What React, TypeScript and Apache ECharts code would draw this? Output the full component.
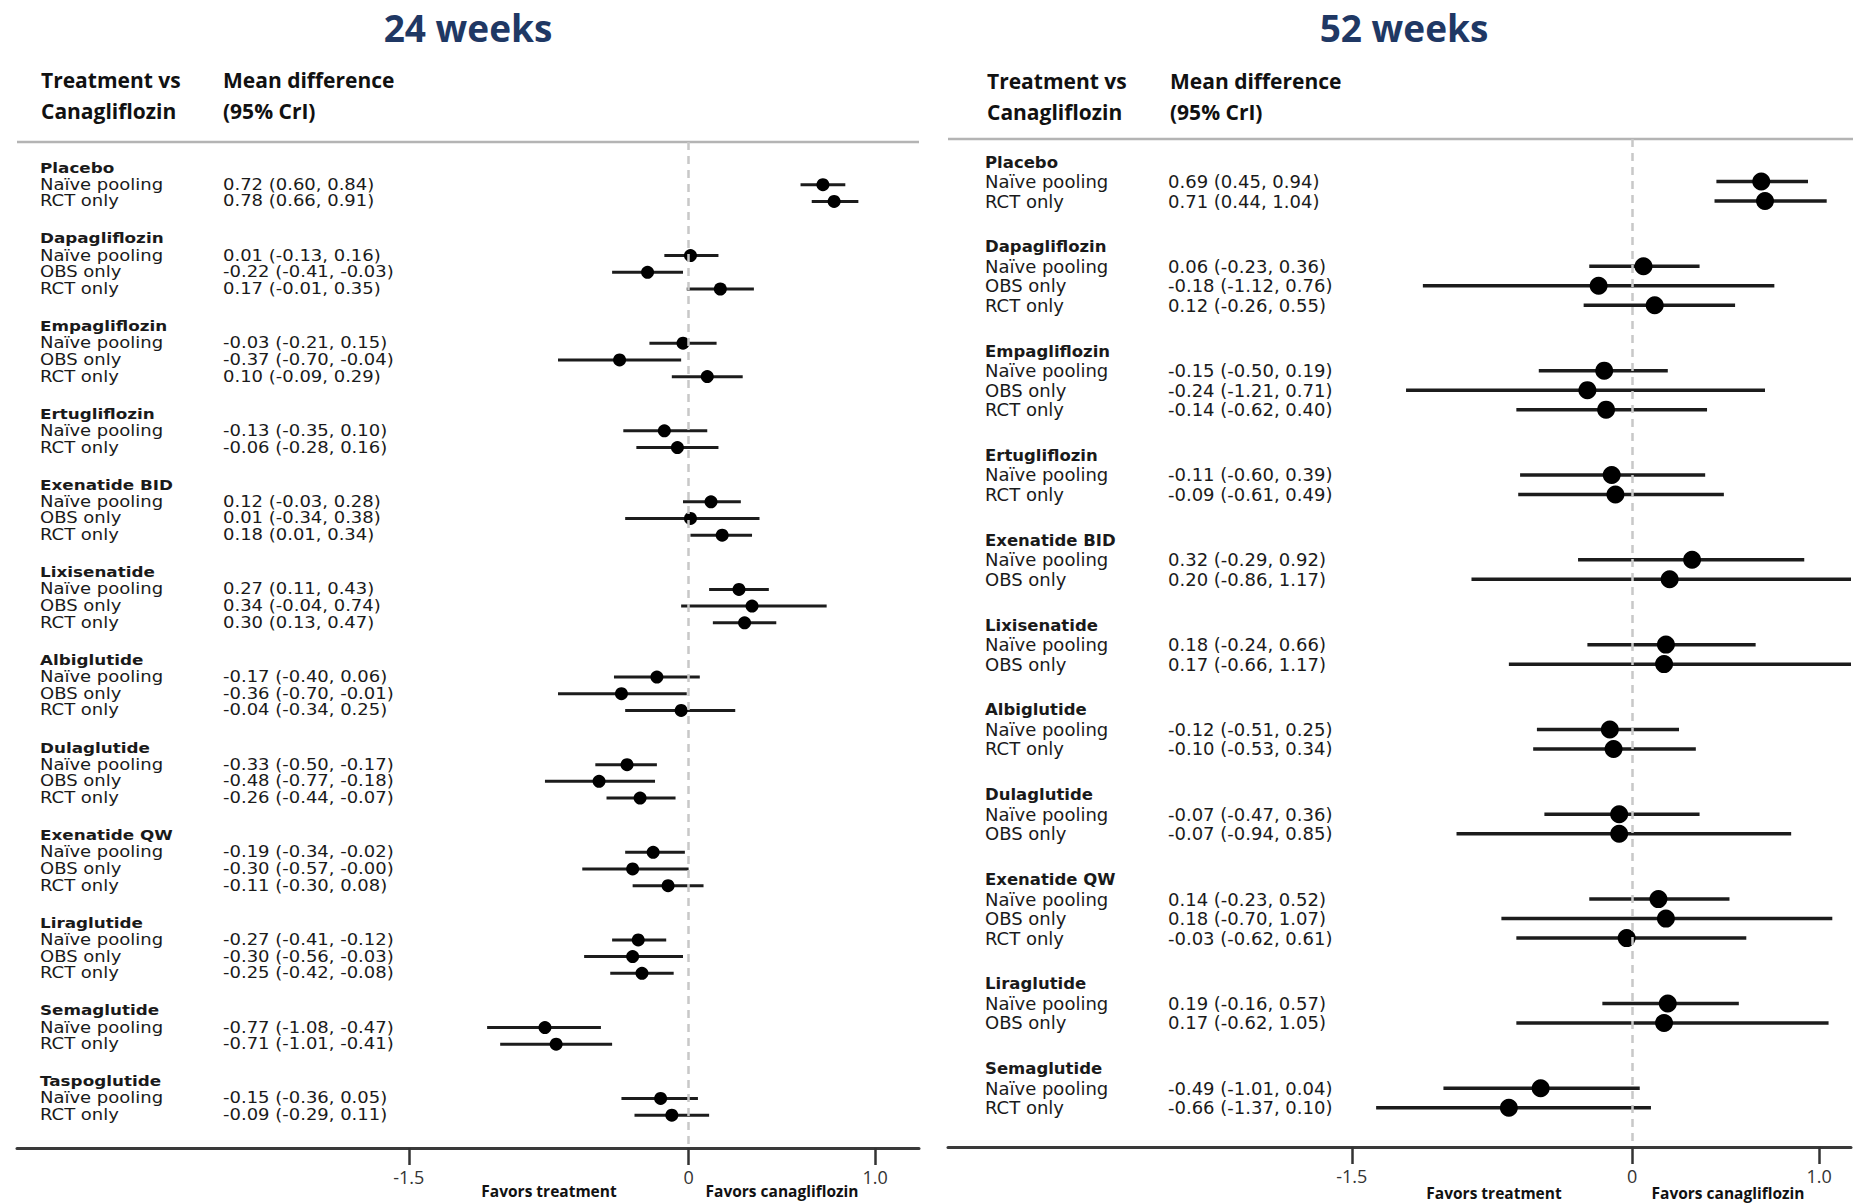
import React, { useEffect, useRef } from "react";
import * as echarts from "echarts";

// ---------------- DATA: 24 weeks ----------------
const GROUPS_24 = [
  "Placebo", "Dapagliflozin", "Empagliflozin", "Ertugliflozin", "Exenatide BID", "Lixisenatide",
  "Albiglutide", "Dulaglutide", "Exenatide QW", "Liraglutide", "Semaglutide", "Taspoglutide",
];
const METHODS_24 = [
  ["Naïve pooling", "RCT only"],
  ["Naïve pooling", "OBS only", "RCT only"],
  ["Naïve pooling", "OBS only", "RCT only"],
  ["Naïve pooling", "RCT only"],
  ["Naïve pooling", "OBS only", "RCT only"],
  ["Naïve pooling", "OBS only", "RCT only"],
  ["Naïve pooling", "OBS only", "RCT only"],
  ["Naïve pooling", "OBS only", "RCT only"],
  ["Naïve pooling", "OBS only", "RCT only"],
  ["Naïve pooling", "OBS only", "RCT only"],
  ["Naïve pooling", "RCT only"],
  ["Naïve pooling", "RCT only"],
];
const MEAN_24 = [
  [0.72, 0.78], [0.01, -0.22, 0.17], [-0.03, -0.37, 0.10], [-0.13, -0.06], [0.12, 0.01, 0.18],
  [0.27, 0.34, 0.30], [-0.17, -0.36, -0.04], [-0.33, -0.48, -0.26], [-0.19, -0.30, -0.11],
  [-0.27, -0.30, -0.25], [-0.77, -0.71], [-0.15, -0.09],
];
const LOWER_24 = [
  [0.60, 0.66], [-0.13, -0.41, -0.01], [-0.21, -0.70, -0.09], [-0.35, -0.28], [-0.03, -0.34, 0.01],
  [0.11, -0.04, 0.13], [-0.40, -0.70, -0.34], [-0.50, -0.77, -0.44], [-0.34, -0.57, -0.30],
  [-0.41, -0.56, -0.42], [-1.08, -1.01], [-0.36, -0.29],
];
const UPPER_24 = [
  [0.84, 0.91], [0.16, -0.03, 0.35], [0.15, -0.04, 0.29], [0.10, 0.16], [0.28, 0.38, 0.34],
  [0.43, 0.74, 0.47], [0.06, -0.01, 0.25], [-0.17, -0.18, -0.07], [-0.02, -0, 0.08],
  [-0.12, -0.03, -0.08], [-0.47, -0.41], [0.05, 0.11],
];

// ---------------- DATA: 52 weeks ----------------
const GROUPS_52 = [
  "Placebo", "Dapagliflozin", "Empagliflozin", "Ertugliflozin", "Exenatide BID", "Lixisenatide",
  "Albiglutide", "Dulaglutide", "Exenatide QW", "Liraglutide", "Semaglutide",
];
const METHODS_52 = [
  ["Naïve pooling", "RCT only"],
  ["Naïve pooling", "OBS only", "RCT only"],
  ["Naïve pooling", "OBS only", "RCT only"],
  ["Naïve pooling", "RCT only"],
  ["Naïve pooling", "OBS only"],
  ["Naïve pooling", "OBS only"],
  ["Naïve pooling", "RCT only"],
  ["Naïve pooling", "OBS only"],
  ["Naïve pooling", "OBS only", "RCT only"],
  ["Naïve pooling", "OBS only"],
  ["Naïve pooling", "RCT only"],
];
const MEAN_52 = [
  [0.69, 0.71], [0.06, -0.18, 0.12], [-0.15, -0.24, -0.14], [-0.11, -0.09], [0.32, 0.20],
  [0.18, 0.17], [-0.12, -0.10], [-0.07, -0.07], [0.14, 0.18, -0.03], [0.19, 0.17], [-0.49, -0.66],
];
const LOWER_52 = [
  [0.45, 0.44], [-0.23, -1.12, -0.26], [-0.50, -1.21, -0.62], [-0.60, -0.61], [-0.29, -0.86],
  [-0.24, -0.66], [-0.51, -0.53], [-0.47, -0.94], [-0.23, -0.70, -0.62], [-0.16, -0.62], [-1.01, -1.37],
];
const UPPER_52 = [
  [0.94, 1.04], [0.36, 0.76, 0.55], [0.19, 0.71, 0.40], [0.39, 0.49], [0.92, 1.17],
  [0.66, 1.17], [0.25, 0.34], [0.36, 0.85], [0.52, 1.07, 0.61], [0.57, 1.05], [0.04, 0.10],
];

const X_TICKS = [-1.5, 0, 1.0];

// ---------------- helpers ----------------
const fmt = (v: number) => (v < 0 || Object.is(v, -0) ? "-" : "") + Math.abs(v).toFixed(2);

type Row = { pos: number; kind: "h" | "r"; label: string; ci?: string; mean?: number; lo?: number; hi?: number };

function buildRows(groups: string[], methods: string[][], means: number[][], lows: number[][], highs: number[][], gap: number): Row[] {
  const rows: Row[] = [];
  let p = 0;
  groups.forEach((g, gi) => {
    rows.push({ pos: p, kind: "h", label: g });
    methods[gi].forEach((m, mi) => {
      const mean = means[gi][mi], lo = lows[gi][mi], hi = highs[gi][mi];
      rows.push({ pos: p + 1 + mi, kind: "r", label: m, ci: `${fmt(mean)} (${fmt(lo)}, ${fmt(hi)})`, mean, lo, hi });
    });
    p += methods[gi].length + gap;
  });
  return rows;
}

type Panel = {
  rows: Row[]; xMin: number; xMax: number; gridLeft: number; gridWidth: number; top: number; bottom: number;
  first: number; step: number; labelX: number; ciX: number; fontSize: number; boldSize: number; scaleX: number;
  symbolSize: number; lineWidth: number;
};

const PANELS: Panel[] = [
  {
    rows: buildRows(GROUPS_24, METHODS_24, MEAN_24, LOWER_24, UPPER_24, 2.25),
    xMin: -3.6, xMax: 1.235, gridLeft: 17, gridWidth: 902, top: 142, bottom: 1148,
    first: 168, step: 16.69, labelX: 23, ciX: 206, fontSize: 15, boldSize: 14, scaleX: 1.2,
    symbolSize: 13, lineWidth: 3,
  },
  {
    rows: buildRows(GROUPS_52, METHODS_52, MEAN_52, LOWER_52, UPPER_52, 2.35),
    xMin: -3.66, xMax: 1.17, gridLeft: 948, gridWidth: 903, top: 139, bottom: 1147,
    first: 162, step: 19.5, labelX: 37, ciX: 220, fontSize: 18, boldSize: 16.5, scaleX: 1,
    symbolSize: 18, lineWidth: 3.5,
  },
];

function txt(x: number, y: number, text: string, size: number, opts: any = {}) {
  const align = opts.align || "left";
  return {
    type: "text", x, y, silent: true,
    style: {
      text, fontSize: size, fontFamily: opts.family || "Open Sans", fontWeight: opts.weight || "bold",
      fill: opts.fill || "#111", align, textAlign: align, verticalAlign: "middle", textVerticalAlign: "middle",
    },
  };
}

function hline(x1: number, x2: number, y: number) {
  return { type: "line", silent: true, shape: { x1, y1: y, x2, y2: y }, style: { stroke: "#b4b4b4", lineWidth: 2.5 } };
}

export default function App() {
  const ref = useRef<HTMLDivElement>(null);

  useEffect(() => {
    if (!ref.current) return;
    const chart = echarts.init(ref.current, null, { renderer: "svg" });

    const grids: any[] = [];
    const xAxes: any[] = [];
    const yAxes: any[] = [];
    const series: any[] = [];

    PANELS.forEach((P, i) => {
      const height = P.bottom - P.top;
      grids.push({ left: P.gridLeft, top: P.top, width: P.gridWidth, height, containLabel: false });
      xAxes.push({
        type: "value", gridIndex: i, min: P.xMin, max: P.xMax, position: "bottom",
        axisLine: { show: true, onZero: false, lineStyle: { color: "#3a3a3a", width: 3 } },
        axisTick: { show: true, customValues: X_TICKS, length: 17, lineStyle: { color: "#333", width: 2.5 } },
        axisLabel: {
          customValues: X_TICKS, margin: 20, fontSize: 18, color: "#333", fontFamily: "Open Sans",
          formatter: (v: number) => (v === 0 ? "0" : v.toFixed(1)),
        },
        splitLine: { show: false },
      });
      yAxes.push({
        type: "value", gridIndex: i, inverse: true, show: false,
        min: (P.top - P.first) / P.step, max: (P.bottom - P.first) / P.step,
        splitLine: { show: false },
      });

      const dataRows = P.rows.filter((r) => r.kind === "r");
      const rows = P.rows;

      // text column + zero reference line
      series.push({
        type: "custom", xAxisIndex: i, yAxisIndex: i, z: 1, silent: true,
        data: rows.map((r) => [P.xMin, r.pos]),
        encode: { x: 0, y: 1 },
        renderItem: (params: any, api: any) => {
          const r = rows[params.dataIndex];
          const pt = api.coord([api.value(0), api.value(1)]);
          const cx = params.coordSys.x;
          const children: any[] = [];
          children.push({
            type: "text", x: cx + P.labelX, y: pt[1], scaleX: P.scaleX,
            style: {
              text: r.label, fontFamily: "DejaVu Sans",
              fontSize: r.kind === "h" ? P.boldSize : P.fontSize,
              fontWeight: r.kind === "h" ? "bold" : "normal",
              fill: "#1a1a1a", align: "left", textAlign: "left", verticalAlign: "middle", textVerticalAlign: "middle",
            },
          });
          if (r.ci) {
            children.push({
              type: "text", x: cx + P.ciX, y: pt[1], scaleX: P.scaleX,
              style: {
                text: r.ci, fontFamily: "DejaVu Sans", fontSize: P.fontSize, fontWeight: "normal",
                fill: "#1a1a1a", align: "left", textAlign: "left", verticalAlign: "middle", textVerticalAlign: "middle",
              },
            });
          }
          return { type: "group", children };
        },
        markLine: {
          silent: true, symbol: ["none", "none"], label: { show: false },
          lineStyle: { color: "#c8c8c8", type: [8, 6], width: 2.5 },
          data: [{ xAxis: 0 }],
        },
      });

      // credible interval lines
      series.push({
        type: "custom", xAxisIndex: i, yAxisIndex: i, z: 3, silent: true,
        data: dataRows.map((r) => [r.lo, r.hi, r.pos]),
        encode: { x: [0, 1], y: 2 },
        renderItem: (_p: any, api: any) => {
          const a = api.coord([api.value(0), api.value(2)]);
          const b = api.coord([api.value(1), api.value(2)]);
          return {
            type: "line",
            shape: { x1: a[0], y1: a[1], x2: b[0], y2: a[1] },
            style: { stroke: "#1c1c1c", lineWidth: P.lineWidth },
          };
        },
      });

      // point estimates
      series.push({
        type: "scatter", xAxisIndex: i, yAxisIndex: i, z: 4, silent: true,
        symbol: "circle", symbolSize: P.symbolSize,
        itemStyle: { color: "#000", opacity: 1 },
        data: dataRows.map((r) => [r.mean, r.pos]),
      });
    });

    const navy = "#1f3864";
    const graphic: any[] = [
      txt(468, 27, "24 weeks", 37, { align: "center", fill: navy }),
      txt(1404, 27, "52 weeks", 37, { align: "center", fill: navy }),
      txt(41, 80, "Treatment vs", 21),
      txt(41, 111, "Canagliflozin", 21),
      txt(223, 80, "Mean difference", 21),
      txt(223, 111, "(95% CrI)", 21),
      txt(987, 81, "Treatment vs", 21),
      txt(987, 112, "Canagliflozin", 21),
      txt(1170, 81, "Mean difference", 21),
      txt(1170, 112, "(95% CrI)", 21),
      hline(17, 919, 142),
      hline(948, 1853, 139),
      txt(549, 1191, "Favors treatment", 15.5, { align: "center" }),
      txt(782, 1191, "Favors canagliflozin", 15.5, { align: "center" }),
      txt(1494, 1193, "Favors treatment", 15.5, { align: "center" }),
      txt(1728, 1193, "Favors canagliflozin", 15.5, { align: "center" }),
    ];

    chart.setOption({
      animation: false,
      backgroundColor: "#ffffff",
      grid: grids,
      xAxis: xAxes,
      yAxis: yAxes,
      series,
      graphic: { elements: graphic },
    });

    return () => chart.dispose();
  }, []);

  return (
    <div
      ref={ref}
      style={{ position: "absolute", left: 0, top: 0, width: 1873, height: 1204, background: "#fff" }}
    />
  );
}
